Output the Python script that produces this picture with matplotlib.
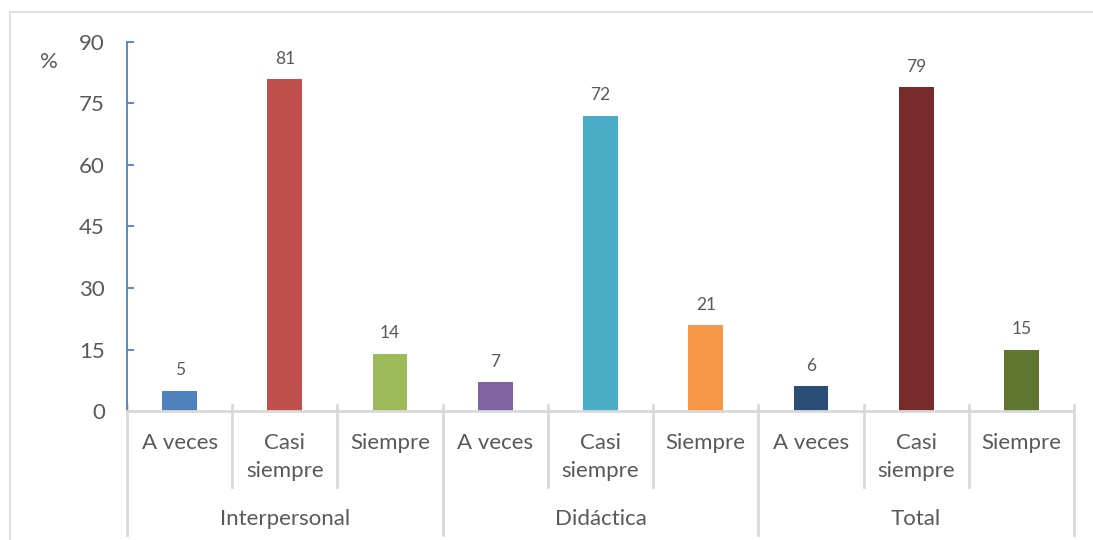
import matplotlib.pyplot as plt
import numpy as np

groups = ['Interpersonal', 'Didáctica', 'Total']
categories = ['A veces', 'Casi\nsiempre', 'Siempre'] * 3
values = [5, 81, 14, 7, 72, 21, 6, 79, 15]
colors = ['#4F81BD', '#C0504D', '#9BBB59',
          '#8064A2', '#4BACC6', '#F79646',
          '#2C4D75', '#772C2A', '#5F7530']
yticks = [0, 15, 30, 45, 60, 75, 90]

txt = '#595959'
grid = '#D9D9D9'
plt.rcParams['font.family'] = ['Lato', 'DejaVu Sans']

fig = plt.figure(figsize=(10.93, 5.40), dpi=100)
ax = fig.add_axes([127/1093, 1 - 411/540, (1074-127)/1093, (411-42)/540])

x = np.arange(len(values))
ax.bar(x, values, width=0.33, color=colors, zorder=2)
for xi, v in zip(x, values):
    ax.text(xi, v + 3, str(v), ha='center', va='bottom', fontsize=12.5, color=txt)

ax.set_xlim(-0.5, len(values) - 0.5)
ax.set_ylim(0, 90)
ax.set_yticks(yticks)
ax.set_yticklabels([str(t) for t in yticks], fontsize=16, color=txt)
ax.tick_params(axis='y', direction='in', color='#4F81BD', length=5, width=1.3, pad=16)
ax.set_xticks(x)
ax.set_xticklabels([])
ax.tick_params(axis='x', direction='in', color=grid, length=4, width=1.5)
for xt in ax.xaxis.get_major_ticks():
    xt.tick1line.set_zorder(3)

for s in ['top', 'right']:
    ax.spines[s].set_visible(False)
ax.spines['left'].set_color('#4F81BD')
ax.spines['left'].set_linewidth(1.3)
ax.spines['bottom'].set_color(grid)
ax.spines['bottom'].set_linewidth(2)

# category labels and separators below the axis
trans = ax.get_xaxis_transform()
for xi, c in zip(x, categories):
    lines = c.split('\n')
    for j, ln in enumerate(lines):
        ax.text(xi, -(443 - 411 + j * 28) / 369, ln, transform=trans,
                ha='center', va='center', fontsize=16, color=txt, clip_on=False)
for k in range(len(values) + 1):
    bottom = 535 if k % 3 == 0 else 487
    ax.plot([k - 0.5, k - 0.5], [(411 - 405) / 369, -(bottom - 411) / 369],
            transform=trans, color=grid, lw=2, clip_on=False)
for g, name in enumerate(groups):
    ax.text(3 * g + 1, -(519 - 411) / 369, name, transform=trans,
            ha='center', va='center', fontsize=16, color=txt, clip_on=False)

fig.text(49/1093, 1 - 62/540, '%', ha='center', va='center', fontsize=16, color=txt)

# chart frame
fig.add_artist(plt.Line2D([10/1093, 1], [1 - 12/540, 1 - 12/540], color=grid, lw=1.2))
fig.add_artist(plt.Line2D([10/1093, 10/1093], [0, 1 - 12/540], color=grid, lw=1.2))

fig.savefig('out.png', dpi=100)
